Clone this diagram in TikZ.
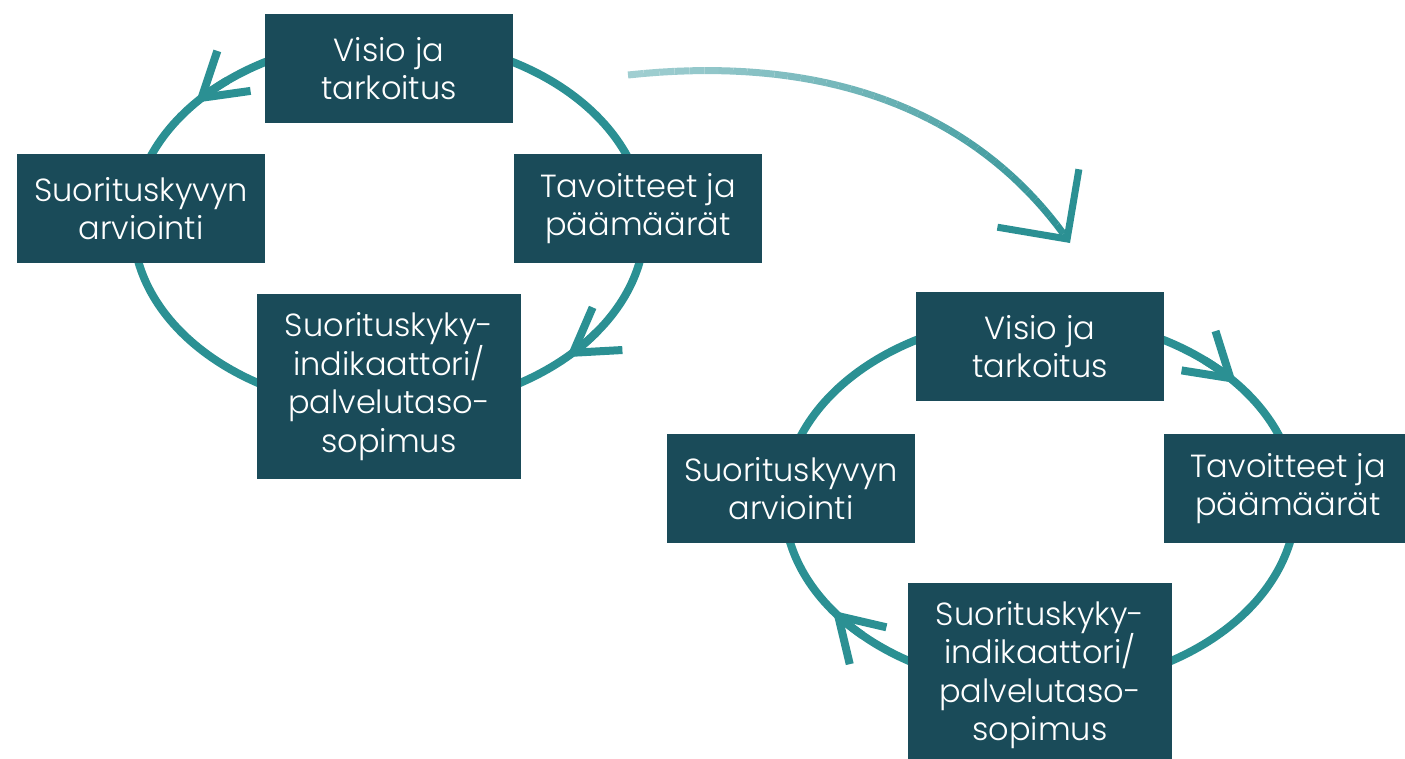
\documentclass[tikz,border=0pt]{standalone}
\usepackage{fontspec}
\setmainfont{Poppins}[UprightFont={* Light}]
\usetikzlibrary{arrows.meta}
\definecolor{boxteal}{RGB}{26,75,89}
\definecolor{ringteal}{RGB}{43,144,147}
\definecolor{paleteal}{RGB}{160,206,209}
\tikzset{
  stepbox/.style={fill=boxteal,text=white,align=center,inner sep=0pt,
    minimum width=248pt,minimum height=109pt,font=\fontsize{32}{38.5}\selectfont},
  tallbox/.style={stepbox,minimum width=264pt,minimum height=185pt},
  ring/.style={draw=ringteal,line width=8pt},
  barb/.tip={Straight Barb[length=42pt,width=52pt]},
  bigbarb/.tip={Straight Barb[length=50pt,width=100pt]},
}
\begin{document}
\begin{tikzpicture}[x=1pt,y=-1pt]
  \path[use as bounding box,clip] (0,0) rectangle (1405,758);
  \coordinate (lc) at (389,224);
  \coordinate (rc) at (1040,502);
  % left cycle
  \draw[ring] (lc) ellipse[x radius=256,y radius=185];
  \draw[ring,-barb] (lc) ++(231:256 and 185) arc[start angle=231,end angle=221,x radius=256,y radius=185];
  \draw[ring,-barb] (lc) ++(36:256 and 185) arc[start angle=36,end angle=46,x radius=256,y radius=185];
  % right cycle
  \draw[ring] (rc) ellipse[x radius=256,y radius=185];
  \draw[ring,-barb] (rc) ++(310:256 and 185) arc[start angle=310,end angle=320,x radius=256,y radius=185];
  \draw[ring,-barb] (rc) ++(134:256 and 185) arc[start angle=134,end angle=144,x radius=256,y radius=185];

  \node[stepbox] (lv) at (389,68.5) {Visio ja\\tarkoitus};
  \node[stepbox] (la) at (141,208.5) {Suorituskyvyn\\arviointi};
  \node[stepbox] (lt) at (638,208.5) {Tavoitteet ja\\päämäärät};
  \node[tallbox] (ls) at (389,386.5) {Suorituskyky-\\indikaattori/\\palvelutaso-\\sopimus};

  \node[stepbox] (rv) at (1040,346.5) {Visio ja\\tarkoitus};
  \node[stepbox] (ra) at (791,488.5) {Suorituskyvyn\\arviointi};
  \node[stepbox] (rt) at (1288,488.5) {Tavoitteet ja\\päämäärät};
  \node[tallbox] (rs) at (1040,675) {Suorituskyky-\\indikaattori/\\palvelutaso-\\sopimus};

  % from the first cycle to the next
  \coordinate (bs) at (628,75);
  \coordinate (be) at (1070,243);
  \path (bs) .. controls (840,52) and (985,120) .. (be)
    foreach \i [evaluate=\i as \p using \i/40] in {0,...,40} {coordinate[pos=\p] (g\i)};
  \foreach \i [evaluate=\i as \j using int(\i+1), evaluate=\i as \k using 100*\i/39] in {0,...,38}
    \draw[line width=7pt,ringteal!\k!paleteal] (g\i) -- (g\j);
  \draw[line width=7pt,ringteal,-bigbarb] (g39) -- (g40);
\end{tikzpicture}
\end{document}
